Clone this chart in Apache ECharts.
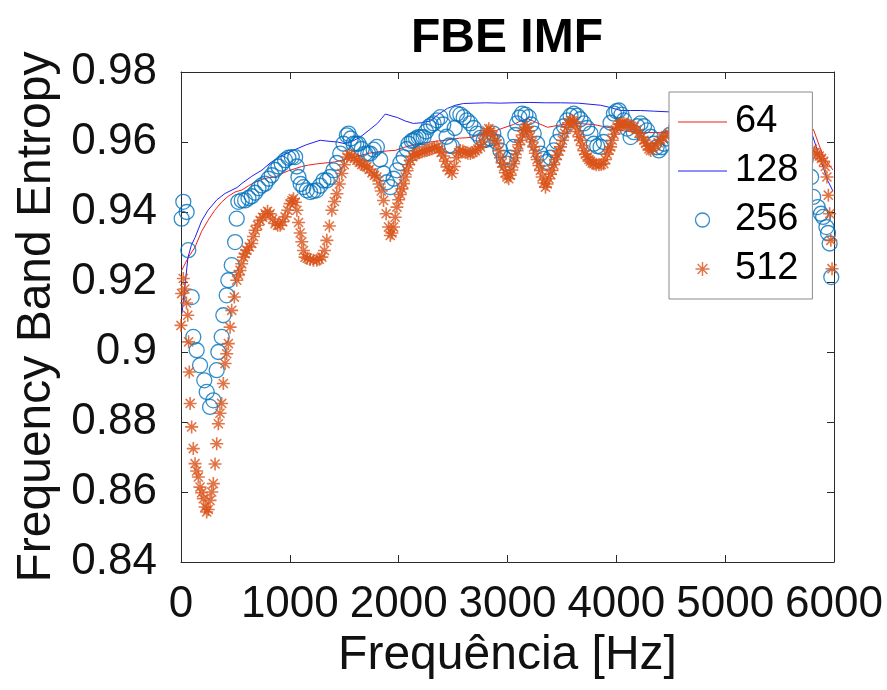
<!DOCTYPE html>
<html>
<head>
<meta charset="utf-8">
<title>FBE IMF</title>
<script src="https://cdn.jsdelivr.net/npm/echarts@6/dist/echarts.min.js"></script>
<style>
  html, body { margin: 0; padding: 0; background: #ffffff; }
  #chart { width: 887px; height: 690px; }
</style>
</head>
<body>
<div id="chart"></div>
<script>
// Frequency band entropy of the IMF for four window lengths.
// Each entry is [frequency in Hz, entropy].

const xTickLabels = ['0', '1000', '2000', '3000', '4000', '5000', '6000'];
const yTickLabels = ['0.84', '0.86', '0.88', '0.9', '0.92', '0.94', '0.96', '0.98'];
const seriesNames = ['64', '128', '256', '512'];

const fbe64 = [
  [6, 0.9233], [67, 0.9270], [129, 0.9300], [190, 0.9345], [248, 0.9376], [310, 0.9405],
  [372, 0.9428], [434, 0.9445], [496, 0.9457], [561, 0.9463], [620, 0.9475], [680, 0.9485],
  [744, 0.9493], [803, 0.9498], [865, 0.9500], [927, 0.9510], [990, 0.9518], [1049, 0.9524],
  [1110, 0.9530], [1172, 0.9534], [1234, 0.9537], [1294, 0.9539], [1353, 0.9541], [1415, 0.9543],
  [1478, 0.9548], [1540, 0.9553], [1600, 0.9558], [1666, 0.9563], [1730, 0.9568], [1790, 0.9571],
  [1850, 0.9573], [1910, 0.9575], [1969, 0.9576], [2043, 0.9584], [2110, 0.9590], [2180, 0.9595],
  [2245, 0.9598], [2310, 0.9601], [2370, 0.9603], [2429, 0.9605], [2490, 0.9608], [2560, 0.9611],
  [2620, 0.9612], [2659, 0.9613], [2720, 0.9618], [2790, 0.9624], [2871, 0.9630], [2960, 0.9640],
  [3055, 0.9650], [3120, 0.9660], [3184, 0.9667], [3270, 0.9655], [3368, 0.9642], [3470, 0.9648],
  [3580, 0.9653], [3690, 0.9652], [3791, 0.9650], [3870, 0.9645], [3948, 0.9640], [4030, 0.9634],
  [4104, 0.9630], [4200, 0.9628], [4300, 0.9627], [4400, 0.9627], [4491, 0.9627], [4700, 0.9628],
  [4950, 0.9630], [5200, 0.9631], [5450, 0.9632], [5700, 0.9634], [5811, 0.9636], [5903, 0.9557],
  [5990, 0.9520]
];

const fbe128 = [
  [9, 0.9110], [40, 0.9200], [64, 0.9270], [95, 0.9305], [129, 0.9327], [190, 0.9375],
  [248, 0.9405], [330, 0.9435], [405, 0.9453], [515, 0.9470], [561, 0.9482], [650, 0.9502],
  [745, 0.9520], [819, 0.9540], [920, 0.9560], [1031, 0.9576], [1150, 0.9592], [1279, 0.9605],
  [1360, 0.9602], [1436, 0.9600], [1509, 0.9595], [1580, 0.9603], [1647, 0.9614], [1720, 0.9632],
  [1804, 0.9653], [1845, 0.9668], [1877, 0.9680], [1930, 0.9675], [1988, 0.9670], [2060, 0.9660],
  [2135, 0.9653], [2210, 0.9655], [2291, 0.9660], [2370, 0.9680], [2448, 0.9696], [2520, 0.9705],
  [2595, 0.9710], [2700, 0.9711], [2800, 0.9712], [2935, 0.9711], [3050, 0.9712], [3200, 0.9713],
  [3350, 0.9712], [3488, 0.9712], [3650, 0.9711], [3856, 0.9705], [3950, 0.9698], [4040, 0.9690],
  [4130, 0.9690], [4224, 0.9690], [4350, 0.9688], [4491, 0.9686], [4700, 0.9684], [4950, 0.9682],
  [5200, 0.9680], [5450, 0.9678], [5650, 0.9670], [5780, 0.9640], [5843, 0.9580], [5942, 0.9490],
  [5990, 0.9460]
];

const fbe256 = [
  [6, 0.9381], [21, 0.9429], [52, 0.9400], [67, 0.9291], [98, 0.9157], [113, 0.9043],
  [144, 0.9005], [175, 0.8962], [214, 0.8919], [236, 0.8886], [267, 0.8843], [297, 0.8862],
  [328, 0.8948], [343, 0.9000], [374, 0.9043], [389, 0.9105], [420, 0.9162], [435, 0.9205],
  [466, 0.9248], [497, 0.9314], [512, 0.9381], [527, 0.9429], [558, 0.9433], [589, 0.9433],
  [620, 0.9440], [650, 0.9445], [681, 0.9455], [712, 0.9468], [742, 0.9476], [773, 0.9481],
  [804, 0.9495], [834, 0.9505], [865, 0.9520], [895, 0.9530], [925, 0.9538], [956, 0.9548],
  [987, 0.9555], [1018, 0.9557], [1049, 0.9557], [1064, 0.9530], [1079, 0.9500], [1100, 0.9480],
  [1125, 0.9471], [1156, 0.9462], [1187, 0.9457], [1217, 0.9460], [1248, 0.9462], [1278, 0.9475],
  [1309, 0.9490], [1340, 0.9490], [1370, 0.9500], [1401, 0.9519], [1432, 0.9540], [1463, 0.9567],
  [1493, 0.9595], [1524, 0.9619], [1539, 0.9624], [1560, 0.9610], [1585, 0.9595], [1610, 0.9595],
  [1631, 0.9595], [1660, 0.9580], [1693, 0.9567], [1720, 0.9567], [1739, 0.9567], [1770, 0.9578],
  [1800, 0.9586], [1830, 0.9550], [1861, 0.9510], [1892, 0.9485], [1923, 0.9471], [1954, 0.9495],
  [1984, 0.9519], [2015, 0.9540], [2045, 0.9557], [2075, 0.9580], [2091, 0.9595], [2120, 0.9603],
  [2137, 0.9605], [2160, 0.9610], [2183, 0.9614], [2206, 0.9614], [2229, 0.9614], [2252, 0.9630],
  [2275, 0.9643], [2298, 0.9648], [2321, 0.9653], [2352, 0.9662], [2383, 0.9671], [2410, 0.9650],
  [2440, 0.9615], [2465, 0.9590], [2490, 0.9588], [2515, 0.9640], [2536, 0.9681], [2567, 0.9678],
  [2597, 0.9671], [2628, 0.9662], [2659, 0.9653], [2690, 0.9640], [2720, 0.9624], [2750, 0.9612],
  [2781, 0.9605], [2812, 0.9607], [2843, 0.9610], [2870, 0.9624], [2900, 0.9600], [2935, 0.9576],
  [2965, 0.9555], [2996, 0.9538], [3026, 0.9555], [3057, 0.9586], [3072, 0.9620], [3088, 0.9653],
  [3110, 0.9670], [3134, 0.9681], [3165, 0.9678], [3195, 0.9671], [3218, 0.9650], [3241, 0.9624],
  [3272, 0.9595], [3303, 0.9567], [3334, 0.9552], [3364, 0.9543], [3395, 0.9555], [3425, 0.9576],
  [3456, 0.9600], [3487, 0.9624], [3518, 0.9645], [3548, 0.9662], [3579, 0.9675], [3609, 0.9681],
  [3640, 0.9675], [3670, 0.9665], [3701, 0.9653], [3732, 0.9640], [3763, 0.9624], [3793, 0.9595],
  [3824, 0.9588], [3855, 0.9586], [3885, 0.9600], [3916, 0.9624], [3947, 0.9655], [3978, 0.9681],
  [4000, 0.9688], [4024, 0.9690], [4047, 0.9678], [4070, 0.9662], [4100, 0.9638], [4131, 0.9614],
  [4160, 0.9628], [4192, 0.9645], [4223, 0.9653], [4254, 0.9645], [4284, 0.9633], [4315, 0.9615],
  [4345, 0.9595], [4370, 0.9585], [4391, 0.9576], [4415, 0.9585], [4437, 0.9595], [4465, 0.9610],
  [4490, 0.9620], [4550, 0.9640], [4620, 0.9655], [4700, 0.9640], [4780, 0.9620], [4860, 0.9640],
  [4940, 0.9655], [5020, 0.9640], [5100, 0.9620], [5180, 0.9630], [5260, 0.9650], [5340, 0.9640],
  [5420, 0.9620], [5500, 0.9610], [5580, 0.9600], [5660, 0.9580], [5740, 0.9550], [5790, 0.9500],
  [5808, 0.9443], [5850, 0.9414], [5880, 0.9395], [5900, 0.9386], [5930, 0.9357], [5945, 0.9340],
  [5960, 0.9310], [5975, 0.9214]
];

const fbe512 = [
  [0, 0.9076], [6, 0.9167], [21, 0.9210], [35, 0.9180], [50, 0.9140], [62, 0.9105],
  [70, 0.9029], [76, 0.8943], [84, 0.8853], [98, 0.8786], [113, 0.8724], [129, 0.8681],
  [144, 0.8660], [159, 0.8643], [175, 0.8614], [190, 0.8598], [205, 0.8581], [221, 0.8557],
  [236, 0.8543], [250, 0.8550], [267, 0.8576], [282, 0.8600], [297, 0.8624], [313, 0.8680],
  [328, 0.8738], [343, 0.8795], [358, 0.8825], [374, 0.8853], [389, 0.8910], [405, 0.8967],
  [420, 0.8995], [435, 0.9024], [451, 0.9071], [466, 0.9119], [490, 0.9157], [512, 0.9205],
  [528, 0.9220], [543, 0.9233], [558, 0.9252], [574, 0.9271], [589, 0.9281], [604, 0.9291],
  [627, 0.9300], [650, 0.9310], [666, 0.9330], [681, 0.9348], [704, 0.9362], [727, 0.9376],
  [750, 0.9385], [773, 0.9395], [795, 0.9402], [819, 0.9395], [842, 0.9380], [865, 0.9367],
  [888, 0.9362], [911, 0.9362], [934, 0.9372], [957, 0.9386], [980, 0.9405], [1003, 0.9424],
  [1020, 0.9432], [1033, 0.9438], [1050, 0.9428], [1065, 0.9405], [1080, 0.9370], [1095, 0.9340],
  [1110, 0.9315], [1125, 0.9290], [1140, 0.9271], [1160, 0.9268], [1187, 0.9264], [1217, 0.9262],
  [1248, 0.9262], [1270, 0.9265], [1294, 0.9271], [1318, 0.9290], [1340, 0.9319], [1363, 0.9360],
  [1386, 0.9405], [1410, 0.9430], [1432, 0.9452], [1455, 0.9480], [1478, 0.9510], [1500, 0.9535],
  [1524, 0.9557], [1545, 0.9565], [1570, 0.9560], [1593, 0.9553], [1616, 0.9548], [1640, 0.9542],
  [1662, 0.9536], [1685, 0.9532], [1708, 0.9529], [1730, 0.9522], [1755, 0.9512], [1778, 0.9505],
  [1800, 0.9500], [1820, 0.9480], [1840, 0.9460], [1861, 0.9433], [1885, 0.9395], [1907, 0.9357],
  [1923, 0.9333], [1938, 0.9340], [1953, 0.9357], [1968, 0.9385], [1984, 0.9414], [2000, 0.9435],
  [2015, 0.9450], [2030, 0.9466], [2045, 0.9481], [2060, 0.9500], [2076, 0.9518], [2092, 0.9535],
  [2107, 0.9548], [2130, 0.9558], [2150, 0.9564], [2168, 0.9567], [2190, 0.9570], [2215, 0.9572],
  [2238, 0.9574], [2260, 0.9576], [2283, 0.9578], [2306, 0.9581], [2330, 0.9584], [2352, 0.9586],
  [2370, 0.9580], [2390, 0.9570], [2414, 0.9560], [2430, 0.9545], [2444, 0.9529], [2465, 0.9518],
  [2490, 0.9510], [2510, 0.9530], [2530, 0.9555], [2550, 0.9570], [2567, 0.9576], [2590, 0.9574],
  [2613, 0.9570], [2636, 0.9568], [2659, 0.9567], [2682, 0.9570], [2705, 0.9575], [2728, 0.9580],
  [2751, 0.9586], [2770, 0.9600], [2790, 0.9618], [2810, 0.9632], [2828, 0.9638], [2845, 0.9632],
  [2866, 0.9618], [2885, 0.9605], [2904, 0.9595], [2920, 0.9575], [2935, 0.9555], [2950, 0.9540],
  [2965, 0.9529], [2980, 0.9512], [2995, 0.9500], [3011, 0.9495], [3025, 0.9505], [3040, 0.9520],
  [3057, 0.9538], [3072, 0.9555], [3088, 0.9575], [3103, 0.9592], [3119, 0.9605], [3135, 0.9620],
  [3150, 0.9633], [3165, 0.9640], [3180, 0.9643], [3195, 0.9632], [3210, 0.9615], [3226, 0.9600],
  [3241, 0.9586], [3256, 0.9568], [3272, 0.9550], [3288, 0.9533], [3303, 0.9519], [3318, 0.9500],
  [3334, 0.9483], [3349, 0.9471], [3364, 0.9480], [3380, 0.9495], [3395, 0.9508], [3410, 0.9519],
  [3425, 0.9535], [3441, 0.9550], [3456, 0.9562], [3471, 0.9575], [3487, 0.9586], [3505, 0.9605],
  [3525, 0.9625], [3545, 0.9642], [3562, 0.9655], [3579, 0.9662], [3595, 0.9660], [3610, 0.9658],
  [3625, 0.9645], [3640, 0.9630], [3655, 0.9615], [3671, 0.9605], [3686, 0.9590], [3701, 0.9575],
  [3716, 0.9565], [3732, 0.9557], [3748, 0.9550], [3763, 0.9545], [3778, 0.9540], [3793, 0.9538],
  [3815, 0.9535], [3840, 0.9535], [3862, 0.9536], [3885, 0.9538], [3900, 0.9550], [3916, 0.9565],
  [3932, 0.9577], [3947, 0.9586], [3962, 0.9605], [3978, 0.9622], [3993, 0.9635], [4008, 0.9643],
  [4024, 0.9650], [4040, 0.9652], [4055, 0.9653], [4070, 0.9653], [4090, 0.9651], [4115, 0.9648],
  [4140, 0.9645], [4162, 0.9643], [4185, 0.9635], [4208, 0.9625], [4231, 0.9614], [4254, 0.9605],
  [4270, 0.9596], [4285, 0.9588], [4300, 0.9580], [4315, 0.9576], [4338, 0.9582], [4360, 0.9590],
  [4385, 0.9598], [4407, 0.9605], [4430, 0.9612], [4455, 0.9618], [4483, 0.9624], [4520, 0.9630],
  [4560, 0.9620], [4600, 0.9600], [4650, 0.9585], [4700, 0.9600], [4750, 0.9625], [4800, 0.9640],
  [4850, 0.9630], [4900, 0.9605], [4950, 0.9590], [5000, 0.9600], [5050, 0.9620], [5100, 0.9635],
  [5150, 0.9625], [5200, 0.9605], [5250, 0.9590], [5300, 0.9595], [5350, 0.9615], [5400, 0.9630],
  [5450, 0.9620], [5500, 0.9600], [5550, 0.9590], [5600, 0.9600], [5650, 0.9615], [5700, 0.9600],
  [5750, 0.9590], [5800, 0.9580], [5825, 0.9570], [5845, 0.9565], [5865, 0.9560], [5885, 0.9553],
  [5905, 0.9545], [5920, 0.9530], [5935, 0.9500], [5948, 0.9448], [5960, 0.9395], [5971, 0.9319],
  [5982, 0.9238]
];

const FONT = '"Liberation Sans", Arial, Helvetica, sans-serif';
const INK = '#111111';
const FRAME = '#2b2b2b';
const RED = '#F01E1E';
const BLUE = '#2020F0';
const CIRCLE_BLUE = '#0072BD';
const STAR_ORANGE = '#D95319';

// asterisk marker: plus and cross superimposed
const ASTERISK = 'path://M10,0L10,20M0,10L20,10M3,3L17,17M3,17L17,3';
// thin horizontal bar used as the legend key of the line series
const LINE_KEY = 'path://M0,0L100,0L100,2.2L0,2.2Z';

const chart = echarts.init(document.getElementById('chart'), null, { renderer: 'canvas' });

function frameAxis(extra) {
  return Object.assign({
    axisLine: { show: true, onZero: false, lineStyle: { color: FRAME, width: 1 } },
    axisTick: { show: true, inside: true, length: 7, lineStyle: { color: FRAME, width: 1 } },
    splitLine: { show: false }
  }, extra);
}

const option = {
  animation: false,
  backgroundColor: '#ffffff',
  grid: { left: 181, right: 53, top: 72, bottom: 128, containLabel: false },
  graphic: [{
    type: 'text',
    x: 507,
    y: 39,
    style: {
      text: 'FBE IMF',
      font: 'bold 48px ' + FONT,
      fill: '#000000',
      textAlign: 'center',
      textVerticalAlign: 'middle'
    }
  }],
  legend: {
    orient: 'vertical',
    left: 669,
    top: 92,
    padding: [11, 14, 11, 9],
    itemGap: 11,
    itemWidth: 49,
    itemHeight: 14,
    backgroundColor: '#ffffff',
    borderColor: '#8a8a8a',
    borderWidth: 1,
    borderRadius: 0,
    textStyle: { fontSize: 38, fontFamily: FONT, color: '#000000', padding: [0, 0, 0, 3] },
    data: [
      { name: seriesNames[0], icon: LINE_KEY, itemStyle: { color: RED, borderWidth: 0 } },
      { name: seriesNames[1], icon: LINE_KEY, itemStyle: { color: BLUE, borderWidth: 0 } },
      { name: seriesNames[2], icon: 'circle',
        itemStyle: { color: 'rgba(0,0,0,0)', borderColor: CIRCLE_BLUE, borderWidth: 1.3 } },
      { name: seriesNames[3], icon: ASTERISK,
        itemStyle: { color: STAR_ORANGE, borderColor: STAR_ORANGE, borderWidth: 1.4 } }
    ]
  },
  xAxis: [
    frameAxis({
      type: 'value', position: 'bottom', min: 0, max: 6000, interval: 1000,
      name: 'Frequência [Hz]', nameLocation: 'middle', nameGap: 56,
      nameTextStyle: { fontSize: 48, fontFamily: FONT, color: INK },
      axisLabel: {
        show: true, margin: 21, fontSize: 44, fontFamily: FONT, color: INK,
        formatter: v => xTickLabels[Math.round(v / 1000)]
      }
    }),
    frameAxis({
      type: 'value', position: 'top', min: 0, max: 6000, interval: 1000,
      axisLabel: { show: false }
    })
  ],
  yAxis: [
    frameAxis({
      type: 'value', position: 'left', min: 0.84, max: 0.98, interval: 0.02,
      name: 'Frequency Band Entropy', nameLocation: 'middle', nameGap: 112, nameRotate: 90,
      nameTextStyle: { fontSize: 48, fontFamily: FONT, color: INK },
      axisLabel: {
        show: true, margin: 24, fontSize: 44, fontFamily: FONT, color: INK,
        formatter: v => yTickLabels[Math.round((v - 0.84) / 0.02)]
      }
    }),
    frameAxis({
      type: 'value', position: 'right', min: 0.84, max: 0.98, interval: 0.02,
      axisLabel: { show: false }
    })
  ],
  series: [
    {
      name: seriesNames[0], type: 'line', data: fbe64,
      symbol: 'none', showSymbol: false,
      lineStyle: { color: RED, width: 1 }, itemStyle: { color: RED },
      emphasis: { disabled: true }, silent: true, z: 2
    },
    {
      name: seriesNames[1], type: 'line', data: fbe128,
      symbol: 'none', showSymbol: false,
      lineStyle: { color: BLUE, width: 1 }, itemStyle: { color: BLUE },
      emphasis: { disabled: true }, silent: true, z: 2
    },
    {
      name: seriesNames[2], type: 'scatter', data: fbe256,
      symbol: 'circle', symbolSize: 15,
      itemStyle: { color: 'rgba(0,0,0,0)', borderColor: CIRCLE_BLUE, borderWidth: 1.3 },
      emphasis: { disabled: true }, silent: true, z: 3
    },
    {
      name: seriesNames[3], type: 'scatter', data: fbe512,
      symbol: ASTERISK, symbolSize: 13,
      itemStyle: { color: STAR_ORANGE, borderColor: STAR_ORANGE, borderWidth: 1.6 },
      emphasis: { disabled: true }, silent: true, z: 3
    }
  ]
};

chart.setOption(option);
</script>
</body>
</html>
